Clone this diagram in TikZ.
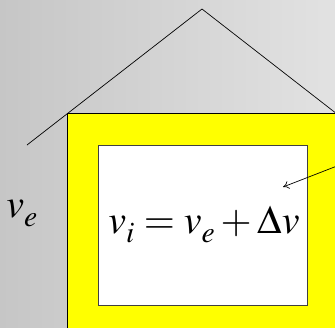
\documentclass[tikz,border=0pt]{standalone}
\usepackage{mathptmx}
\usetikzlibrary{arrows.meta}
\definecolor{bgl}{RGB}{198,198,198}
\definecolor{bgr}{RGB}{226,226,226}
\definecolor{house}{RGB}{255,255,0}
\tikzset{
  roofline/.style={draw=black, line width=0.7pt},
  wallbox/.style={fill=house, draw=black, line width=0.8pt},
  roombox/.style={fill=white, draw=black!75, line width=0.8pt},
  pointer/.style={draw=black, line width=0.7pt, -{To[length=6pt,width=8pt]}},
  formula/.style={inner sep=0pt, font=\fontsize{40}{44}\selectfont}
}
\begin{document}
\begin{tikzpicture}[x=1pt,y=-1pt]
\useasboundingbox (0,0) rectangle (335,327);
\shade[left color=bgl, right color=bgr] (0,0) rectangle (335,327);
\coordinate (roofL) at (27,145);
\coordinate (apex) at (202,9);
\coordinate (roofR) at (337,114);
\draw[roofline] (roofL) -- (apex) -- (roofR);
\draw[wallbox] (67,113) rectangle (340,330);
\draw[roombox] (98,145) rectangle (307,305);
\node[formula, anchor=base] (eq) at (204,233) {$v_{\raisebox{-3pt}{$\scriptstyle i$}} = v_{\raisebox{-3pt}{$\scriptstyle e$}} + \Delta v$};
\node[formula, anchor=base] (ve) at (22,217) {$v_{\raisebox{-3pt}{$\scriptstyle e$}}$};
\coordinate (tail) at (337,166);
\coordinate (head) at (283,187);
\draw[pointer] (tail) -- (head);
\end{tikzpicture}
\end{document}
